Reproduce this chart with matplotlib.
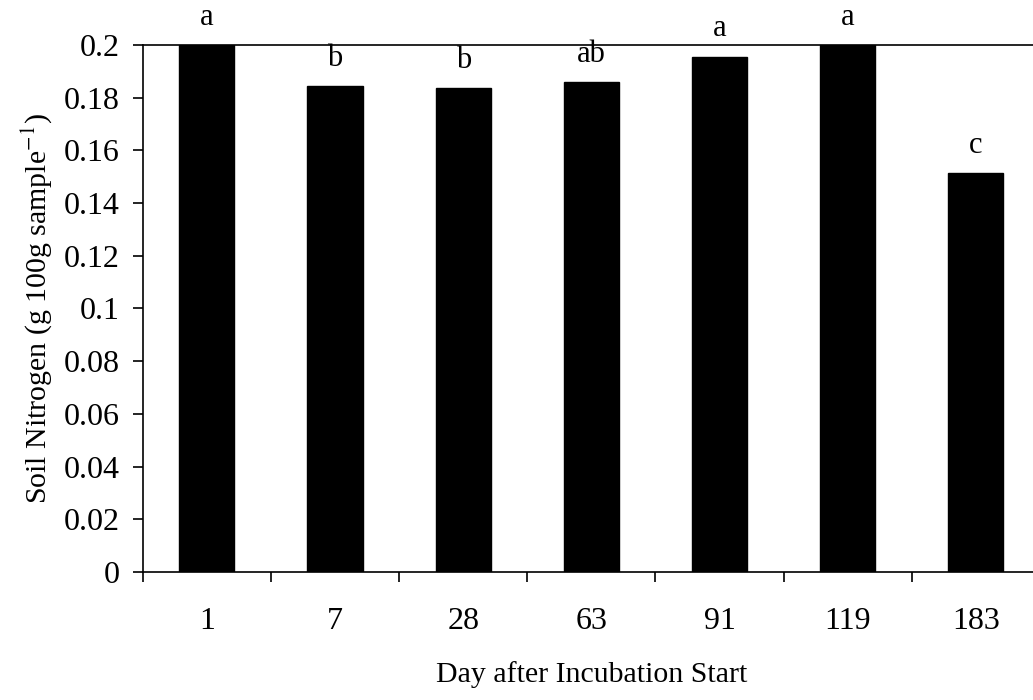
import numpy as np
import matplotlib
matplotlib.use("Agg")
import matplotlib.pyplot as plt

plt.rcParams["font.family"] = ["Liberation Serif", "DejaVu Serif"]
plt.rcParams["mathtext.fontset"] = "stix"

days = ["1", "7", "28", "63", "91", "119", "183"]
nitrogen = [0.200, 0.1844, 0.1836, 0.1860, 0.1956, 0.200, 0.1515]
letters = ["a", "b", "b", "ab", "a", "a", "c"]

fs = 23
fig = plt.figure(figsize=(10.33, 7.0), dpi=100)
ax = fig.add_axes([0.1382, 0.1829, 0.8686, 0.7528])

x = np.arange(len(days)) + 0.5
bars = ax.bar(x, nitrogen, width=0.43, color="black", edgecolor="black")

for xi, v, lab in zip(x, nitrogen, letters):
    ax.annotate(lab, (xi, v), xytext=(0, 20), textcoords="offset points",
                ha="center", va="center", fontsize=22, annotation_clip=False)

ax.set_xlim(0, len(days))
ax.set_ylim(0, 0.2)

# category boundaries as ticks, labels at bar centres
ax.set_xticks(np.arange(len(days) + 1))
ax.set_xticklabels([])
ax.set_xticks(x, minor=True)
ax.set_xticklabels(days, minor=True, fontsize=fs)
ax.tick_params(axis="x", which="major", direction="out", length=7.5, width=1.2)
ax.tick_params(axis="x", which="minor", length=0, pad=25)

yt = np.arange(0, 0.201, 0.02)
ax.set_yticks(yt)
ax.set_yticklabels(["0"] + ["%g" % round(t, 2) for t in yt[1:]], fontsize=fs)
ax.tick_params(axis="y", direction="out", length=7.5, width=1.2, pad=9)

for s in ["left", "bottom", "top", "right"]:
    ax.spines[s].set_linewidth(1.2)

ax.set_xlabel("Day after Incubation Start", fontsize=21.5, labelpad=18)
ax.set_ylabel("Soil Nitrogen (g 100g sample$^{-1}$)", fontsize=21.5, labelpad=7)

fig.savefig("out.png", dpi=100)
